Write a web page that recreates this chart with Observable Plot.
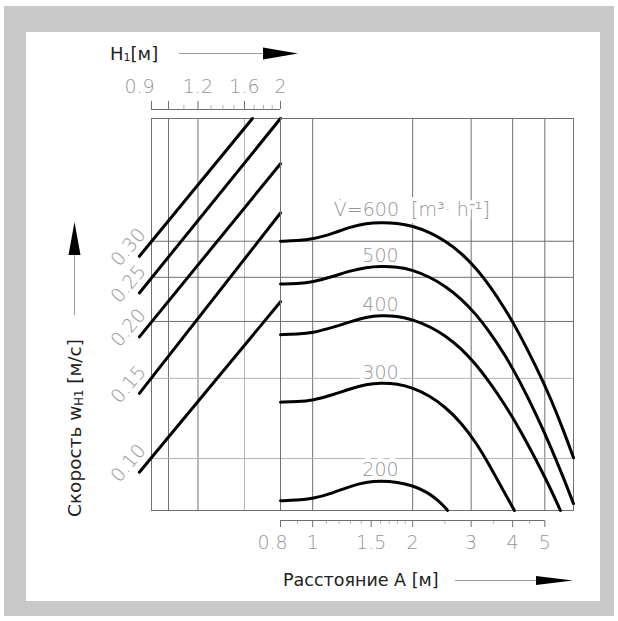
<!DOCTYPE html>
<html>
<head>
<meta charset="utf-8">
<script src="https://cdn.jsdelivr.net/npm/d3@7"></script>
<script src="https://cdn.jsdelivr.net/npm/@observablehq/plot@0.6"></script>
<style>
  html, body { margin: 0; padding: 0; background: #fff; }
  #wrap { position: relative; width: 618px; height: 621px; background: #fff; overflow: hidden; }
  #wrap > .layer { position: absolute; left: 0; top: 0; }
  #wrap svg { position: absolute; left: 0; top: 0; }
</style>
</head>
<body>
<div id="wrap">
  <div class="layer" style="left:4px;top:6px;width:610px;height:610px;background:#c8c8c8"></div>
  <div class="layer" style="left:26px;top:32px;width:574px;height:569px;background:#fff"></div>
</div>
<script>
// ---------- data ----------
// vertical (log) scale, expressed in velocity units read at H1 = 0.9
const V_MIN = 0.0769;
const V_MAX = 0.558;
const gridVDark = [0.2, 0.25, 0.3];
const gridVLight = [0.1, 0.15];

// H1 (top, left panel)
const H1_DOMAIN = [0.9, 2];
const gridH1Dark = [1, 1.2];
const gridH1Light = [1.6];
const H1Major = [0.9, 1, 1.2, 1.6, 2];
const H1Minor = [1.1, 1.3, 1.4, 1.5, 1.7, 1.8, 1.9];
const H1LabelValues = [0.9, 1.2, 1.6, 2];
const H1LabelText = ["0.9", "1.2", "1.6", "2"];

// A (bottom, right panel)
const A_DOMAIN = [0.8, 6.1];
const gridA = [1, 2, 3, 4, 5];
const AMajor = [0.8, 1, 1.5, 2, 3, 4, 5];
const AMinor = [0.9, 1.1, 1.2, 1.3, 1.4, 1.6, 1.7, 1.8, 1.9, 2.5, 3.5, 4.5];
const ALabelValues = [0.8, 1, 1.5, 2, 3, 4, 5];
const ALabelText = ["0.8", "1", "1.5", "2", "3", "4", "5"];

// velocity lines (left panel)
const velocityLabels = ["0.10", "0.15", "0.20", "0.25", "0.30"];
const velStartH1 = [0.835, 0.835, 0.835, 0.835, 0.835];
const velStartV  = [0.0933, 0.139, 0.185, 0.231, 0.278];
const velEndH1   = [2.0, 2.0, 2.0, 2.0, 1.681];
const velEndV    = [0.221, 0.346, 0.444, 0.558, 0.558];

// flow-rate curves (right panel)
const flowRates = [200, 300, 400, 500, 600];
const curveA = {
  200: [0.8, 0.9, 1.0, 1.15, 1.3, 1.45, 1.6, 1.8, 2.0, 2.2, 2.4, 2.55],
  300: [0.8, 0.9, 1.0, 1.15, 1.3, 1.45, 1.6, 1.8, 2.0, 2.25, 2.5, 2.8, 3.1, 3.4, 3.75, 4.05],
  400: [0.8, 0.9, 1.0, 1.15, 1.3, 1.45, 1.6, 1.8, 2.0, 2.25, 2.5, 2.8, 3.1, 3.4, 3.8, 4.2, 4.7, 5.2, 5.57],
  500: [0.8, 0.9, 1.0, 1.15, 1.3, 1.45, 1.6, 1.8, 2.0, 2.25, 2.5, 2.8, 3.1, 3.4, 3.8, 4.2, 4.7, 5.2, 5.7, 6.1],
  600: [0.8, 0.9, 1.0, 1.15, 1.3, 1.45, 1.6, 1.8, 2.0, 2.25, 2.5, 2.8, 3.1, 3.4, 3.8, 4.2, 4.7, 5.2, 5.7, 6.1]
};
const curveV = {
  200: [0.0808, 0.0810, 0.0816, 0.0840, 0.0870, 0.0888, 0.0893, 0.0888, 0.0872, 0.0846, 0.0808, 0.0769],
  300: [0.1330, 0.1333, 0.1342, 0.1380, 0.1424, 0.1455, 0.1466, 0.1460, 0.1430, 0.1373, 0.1300, 0.1200, 0.1085, 0.0970, 0.0850, 0.0769],
  400: [0.1871, 0.1876, 0.1888, 0.1940, 0.1998, 0.2045, 0.2063, 0.2055, 0.2020, 0.1950, 0.1865, 0.1745, 0.1610, 0.1475, 0.1310, 0.1160, 0.0995, 0.0860, 0.0769],
  500: [0.2417, 0.2422, 0.2440, 0.2510, 0.2585, 0.2630, 0.2645, 0.2637, 0.2595, 0.2505, 0.2395, 0.2245, 0.2075, 0.1905, 0.1685, 0.1480, 0.1255, 0.1065, 0.0905, 0.0796],
  600: [0.3000, 0.3008, 0.3030, 0.3120, 0.3225, 0.3285, 0.3300, 0.3290, 0.3240, 0.3140, 0.3010, 0.2830, 0.2620, 0.2405, 0.2130, 0.1875, 0.1595, 0.1360, 0.1150, 0.1004]
};
const curveLabelText = ["200", "300", "400", "500"];
const curveLabelA = [1.6, 1.6, 1.6, 1.6];
const curveLabelV = [0.0944, 0.1541, 0.217, 0.278];
const flowTitleText = "V\u0307=600\u00a0\u00a0[m\u00b3\u00b7\u00a0h\u207b\u00b9]";
const flowTitleA = 1.158;
const flowTitleV = 0.351;

// ---------- tables ----------
const diagRows = velocityLabels.flatMap((w, i) => [
  {w, h: velStartH1[i], v: velStartV[i]},
  {w, h: velEndH1[i], v: velEndV[i]}
]);
const diagStarts = velocityLabels.map((w, i) => ({w, h: velStartH1[i], v: velStartV[i]}));
const curveRows = flowRates.flatMap(q => curveA[q].map((a, j) => ({q, a, v: curveV[q][j]})));
const curveLabels = curveLabelText.map((t, i) => ({t, a: curveLabelA[i], v: curveLabelV[i]}));
const H1Labels = H1LabelText.map((t, i) => ({t, x: H1LabelValues[i]}));
const ALabels = ALabelText.map((t, i) => ({t, x: ALabelValues[i]}));

// ---------- styles ----------
const DARK = "#707070", LIGHT = "#b4b4b4", LABEL = "#959595";
const FONT = "DejaVu Sans";
const W = 618, H = 621;
const TOP = 118, BOTTOM = 510, LEFT = 151, SPLIT = 280, RIGHT = 573;
const transparent = {background: "transparent", overflow: "visible"};
const yScale = {type: "log", domain: [V_MIN, V_MAX], axis: null};
const numText = {fill: LABEL, fontFamily: FONT, fontWeight: 200, fontSize: 19};

const wrap = document.getElementById("wrap");

// left panel
const left = Plot.plot({
  width: W, height: H,
  marginTop: TOP, marginBottom: H - BOTTOM, marginLeft: LEFT, marginRight: W - SPLIT,
  style: transparent,
  x: {type: "log", domain: H1_DOMAIN, axis: null},
  y: yScale,
  marks: [
    Plot.ruleX(gridH1Dark, {stroke: DARK}),
    Plot.ruleX(gridH1Light, {stroke: LIGHT}),
    Plot.ruleY(gridVDark, {stroke: DARK}),
    Plot.ruleY(gridVLight, {stroke: LIGHT}),
    Plot.frame({stroke: DARK}),
    Plot.line(diagRows, {x: "h", y: "v", z: "w", stroke: "#000", strokeWidth: 3}),
    Plot.text(diagStarts, {x: "h", y: "v", text: "w", rotate: -50, dx: -11, dy: -9, ...numText})
  ]
});

// right panel
const right = Plot.plot({
  width: W, height: H,
  marginTop: TOP, marginBottom: H - BOTTOM, marginLeft: SPLIT, marginRight: W - RIGHT,
  style: transparent,
  x: {type: "log", domain: A_DOMAIN, axis: null},
  y: yScale,
  marks: [
    Plot.ruleX(gridA, {stroke: DARK}),
    Plot.ruleY(gridVDark, {stroke: DARK}),
    Plot.ruleY(gridVLight, {stroke: LIGHT}),
    Plot.frame({stroke: DARK}),
    Plot.text(curveLabels, {x: "a", y: "v", text: "t", stroke: "white", strokeWidth: 8, ...numText}),
    Plot.text([flowTitleText], {x: () => flowTitleA, y: () => flowTitleV, text: d => d, textAnchor: "start", stroke: "white", strokeWidth: 8, ...numText}),
    Plot.line(curveRows, {x: "a", y: "v", z: "q", stroke: "#000", strokeWidth: 3, curve: "basis"})
  ]
});

// top H1 scale bar
const topAxis = Plot.plot({
  width: W, height: H,
  marginTop: 101, marginBottom: H - 109, marginLeft: LEFT, marginRight: W - SPLIT,
  style: transparent,
  x: {type: "log", domain: H1_DOMAIN, axis: null},
  y: {domain: [0, 1], axis: null},
  marks: [
    Plot.tickX(H1Major, {stroke: DARK}),
    Plot.tickX(H1Minor, {stroke: LIGHT, insetTop: 4}),
    Plot.ruleY([0], {x1: H1_DOMAIN[0], x2: H1_DOMAIN[1], stroke: DARK}),
    Plot.text(H1Labels, {filter: (d, i) => i === 0, x: "x", text: "t", frameAnchor: "top", lineAnchor: "middle", dy: -15, dx: -12, ...numText}),
    Plot.text(H1Labels, {filter: (d, i) => i > 0, x: "x", text: "t", frameAnchor: "top", lineAnchor: "middle", dy: -15, ...numText})
  ]
});

// bottom A scale bar
const bottomAxis = Plot.plot({
  width: W, height: H,
  marginTop: 520, marginBottom: H - 527, marginLeft: SPLIT, marginRight: W - RIGHT,
  style: transparent,
  x: {type: "log", domain: A_DOMAIN, axis: null},
  y: {domain: [0, 1], axis: null},
  marks: [
    Plot.tickX(AMajor, {stroke: DARK}),
    Plot.tickX(AMinor, {stroke: LIGHT, insetBottom: 3}),
    Plot.ruleY([1], {x1: A_DOMAIN[0], x2: 5, stroke: DARK}),
    Plot.text(ALabels, {filter: (d, i) => i === 0, x: "x", text: "t", frameAnchor: "bottom", lineAnchor: "middle", dy: 15, dx: -8, ...numText}),
    Plot.text(ALabels, {filter: (d, i) => i > 0, x: "x", text: "t", frameAnchor: "bottom", lineAnchor: "middle", dy: 15, ...numText})
  ]
});

[left, right, topAxis, bottomAxis].forEach(s => wrap.appendChild(s));

// titles and arrows
const NS = "http://www.w3.org/2000/svg";
const deco = document.createElementNS(NS, "svg");
deco.setAttribute("width", W);
deco.setAttribute("height", H);
deco.innerHTML = `
  <g font-family="${FONT}" fill="#222" font-size="17.5">
    <text x="110" y="60" font-size="18">H<tspan font-size="11" dy="1">1</tspan><tspan dy="-1">[м]</tspan></text>
    <text x="283" y="586">Расстояние А [м]</text>
    <text transform="translate(81,517) rotate(-90)" font-size="18.5">Скорость w<tspan font-size="11.5" dy="2">H1</tspan><tspan dy="-2"> [м/с]</tspan></text>
  </g>
  <g stroke="#999" stroke-width="1">
    <line x1="179" y1="53.5" x2="265" y2="53.5"/>
    <line x1="455" y1="580.5" x2="538" y2="580.5"/>
    <line x1="74.5" y1="315" x2="74.5" y2="253"/>
  </g>
  <g fill="#000">
    <polygon points="263,47.5 298,53.5 263,59.5"/>
    <polygon points="536,576 573,580.5 536,585"/>
    <polygon points="68.5,255 74.5,222 80.5,255"/>
  </g>`;
wrap.appendChild(deco);
</script>
</body>
</html>
